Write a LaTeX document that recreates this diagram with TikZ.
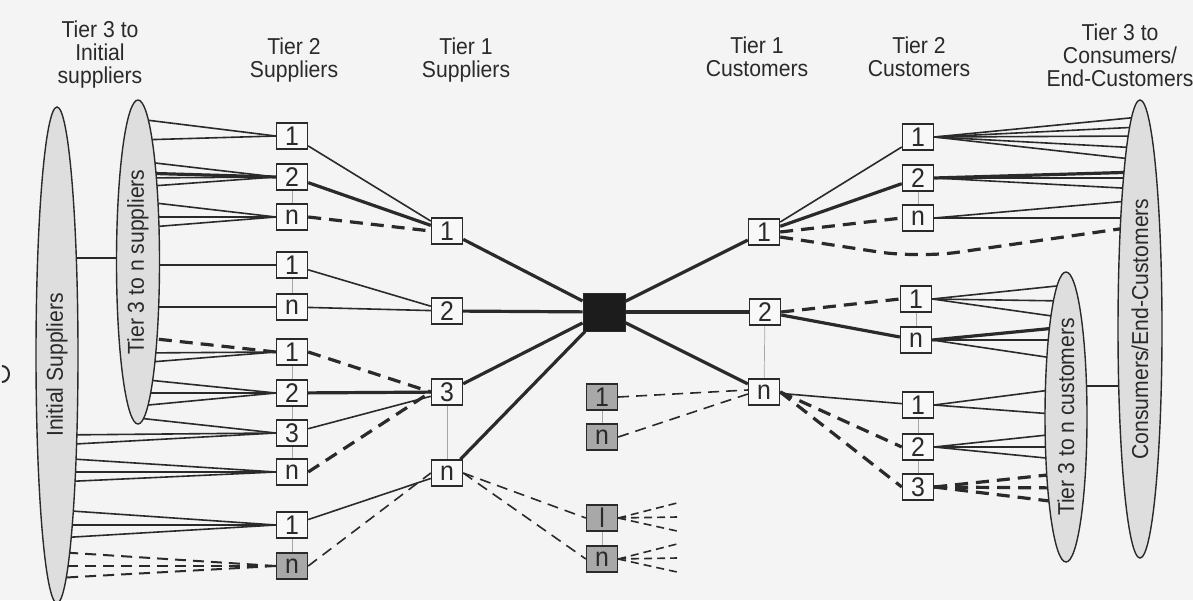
\documentclass[tikz,border=0pt]{standalone}
\usepackage{fontspec}
\setmainfont{Liberation Sans}[FakeStretch=0.92]
\usetikzlibrary{shapes.geometric,calc}
\definecolor{ink}{HTML}{2A2A2A}
\definecolor{paper}{HTML}{F4F4F4}
\definecolor{boxfill}{HTML}{F8F8F8}
\definecolor{ellfill}{HTML}{DEDEDE}
\definecolor{gboxfill}{HTML}{A8A8A8}
\definecolor{hubfill}{HTML}{1C1C1C}
\pgfdeclarelayer{back}
\pgfdeclarelayer{bg}
\pgfsetlayers{back,bg,main}
\begin{document}
\begin{tikzpicture}[x=1pt,y=-1pt,
  hdr/.style={font=\fontsize{23}{23}\selectfont, text=ink, align=center, inner sep=0pt, anchor=north},
  ell/.style={ellipse, draw=ink, fill=ellfill, line width=1.4pt, inner sep=0pt, rotate=90, text=ink, font=\fontsize{23}{23}\selectfont},
  elltext/.style={rotate=90, inner sep=0pt, text=ink, font=\fontsize{23}{23}\selectfont},
  bx/.style={draw=ink, fill=boxfill, line width=1.4pt, minimum width=31pt, minimum height=26pt, inner sep=0pt, text=ink, font=\fontsize{27}{27}\selectfont},
  gbx/.style={bx, fill=gboxfill},
  hub/.style={draw=ink, fill=hubfill, line width=1pt, minimum width=42pt, minimum height=38pt, inner sep=0pt},
  ln/.style={draw=ink, line width=1.6pt},
  bd/.style={draw=ink, line width=3.2pt},
  bdash/.style={draw=ink, line width=3.2pt, dash pattern=on 13pt off 8pt},
  tdash/.style={draw=ink, line width=1.6pt, dash pattern=on 11pt off 7pt},
  grp/.style={draw=gray!70, line width=0.7pt}]
\begin{pgfonlayer}{back}
\fill[paper] (0,0) rectangle (1193,600);
\end{pgfonlayer}
\useasboundingbox (0,0) rectangle (1193,600);

% headers
\node[hdr] (h1) at (100,21) {Tier 3 to\\Initial\\suppliers};
\node[hdr] (h2) at (294,38) {Tier 2\\Suppliers};
\node[hdr] (h3) at (466,38) {Tier 1\\Suppliers};
\node[hdr] (h4) at (757,37) {Tier 1\\Customers};
\node[hdr] (h5) at (919,37) {Tier 2\\Customers};
\node[hdr] (h6) at (1120,24) {Tier 3 to\\Consumers/\\End-Customers};

% ellipses
\node[ell, minimum width=496pt, minimum height=42pt] (IS) at (57,355) {};
\node[elltext] (ISt) at (57,365) {Initial Suppliers};
\node[ell, minimum width=324pt, minimum height=43pt] (TS) at (138,262) {Tier 3 to n suppliers};
\node[ell, minimum width=290pt, minimum height=42pt] (TC) at (1066,417) {Tier 3 to n customers};
\node[ell, minimum width=458pt, minimum height=44pt] (CE) at (1140,329) {Consumers/End-Customers};

% tier 2 suppliers
\node[bx] (S2a) at (292,136) {1};
\node[bx] (S2b) at (292,177) {2};
\node[bx] (S2c) at (292,217) {n};
\node[bx] (S2d) at (292,265) {1};
\node[bx] (S2e) at (292,307) {n};
\node[bx] (S2f) at (292,352) {1};
\node[bx] (S2g) at (292,393) {2};
\node[bx] (S2h) at (292,433) {3};
\node[bx] (S2i) at (292,472) {n};
\node[bx] (S2j) at (292,525) {1};
\node[gbx] (S2k) at (292,566) {n};

% tier 1 suppliers
\node[bx] (T1S1) at (447,231) {1};
\node[bx] (T1S2) at (447,311) {2};
\node[bx] (T1S3) at (447,392) {3};
\node[bx] (T1Sn) at (447,473) {n};

% focal company
\node[hub] (hub) at (604,312) {};

% gray boxes
\node[gbx] (G1) at (602,397) {1};
\node[gbx] (Gn) at (602,437) {n};
\node[gbx] (GL) at (602,518) {l};
\node[gbx] (Gm) at (602,559) {n};

% tier 1 customers
\node[bx] (C1a) at (764,232) {1};
\node[bx] (C1b) at (765,312) {2};
\node[bx] (C1n) at (764,392) {n};

% tier 2 customers
\node[bx] (C2a) at (918,137) {1};
\node[bx] (C2b) at (918,178) {2};
\node[bx] (C2c) at (918,218) {n};
\node[bx] (C2d) at (916,299) {1};
\node[bx] (C2e) at (916,340) {n};
\node[bx] (C2f) at (918,405) {1};
\node[bx] (C2g) at (918,447) {2};
\node[bx] (C2h) at (918,487) {3};

\coordinate (dip) at (918,258);
\coordinate (fa1) at (677,503);
\coordinate (fa2) at (677,517);
\coordinate (fa3) at (677,531);
\coordinate (fb1) at (677,544);
\coordinate (fb2) at (677,558);
\coordinate (fb3) at (677,572);

% small mark at left edge
\draw[ink, line width=2pt] (2,366) to[out=0,in=90] (9,374) to[out=-90,in=0] (2,382);

\begin{pgfonlayer}{bg}
% group lines
\draw[grp] (S2b) -- (S2c);
\draw[grp] (S2d) -- (S2e);
\draw[grp] (S2f) -- (S2i);
\draw[grp] (S2j) -- (S2k);
\draw[grp] (T1S3) -- (T1Sn);
\draw[grp] (G1) -- (Gn);
\draw[grp] (GL) -- (Gm);
\draw[grp] (C1b) -- (C1n);
\draw[grp] (C2b) -- (C2c);
\draw[grp] (C2d) -- (C2e);
\draw[grp] (C2f) -- (C2h);

% ellipse links
\draw[ln] (IS.center |- 0,258) -- (TS.center |- 0,258);
\draw[ln] (TC.center |- 0,386) -- (CE.center |- 0,386);

% left fans
\foreach \y in {119,140} \draw[ln] (TS.center |- 0,\y) -- (S2a.west);
\foreach \y in {161,178,187} \draw[ln] (TS.center |- 0,\y) -- (S2b.west);
\draw[bd] (TS.center |- 0,173) -- (S2b.west);
\foreach \y in {201,217,228} \draw[ln] (TS.center |- 0,\y) -- (S2c.west);
\draw[ln] (TS.center |- 0,265) -- (S2d.west);
\draw[ln] (TS.center |- 0,307) -- (S2e.west);
\draw[bdash] (TS.center |- 0,337) -- (S2f.west);
\foreach \y in {353,363} \draw[ln] (TS.center |- 0,\y) -- (S2f.west);
\foreach \y in {379,393,406} \draw[ln] (TS.center |- 0,\y) -- (S2g.west);
\draw[ln] (TS.center |- 0,418) -- (S2h.west);
\foreach \y in {435,445} \draw[ln] (IS.center |- 0,\y) -- (S2h.west);
\foreach \y in {458,472,482} \draw[ln] (IS.center |- 0,\y) -- (S2i.west);
\foreach \y in {510,525,538} \draw[ln] (IS.center |- 0,\y) -- (S2j.west);
\foreach \y in {552,566,578} \draw[tdash, line width=2pt] (S2k.west) -- (IS.center |- 0,\y);

% tier 2 -> tier 1 suppliers
\draw[ln] (S2a) -- (T1S1);
\draw[bd] (S2b) -- (T1S1);
\draw[bdash] (S2c.east) -- (T1S1.west);
\draw[ln] (S2d) -- (T1S2);
\draw[ln] (S2e) -- (T1S2);
\draw[bdash] (S2f.east) -- (T1S3.west);
\draw[bd] (S2g) -- (T1S3);
\draw[ln] (S2h) -- (T1S3);
\draw[bdash] (S2i.east) -- (T1S3.west);
\draw[ln] (S2j) -- (T1Sn);
\draw[tdash] (S2k.east) -- (T1Sn.west);

% tier 1 suppliers -> hub -> tier 1 customers
\foreach \n in {T1S1,T1S2,T1S3,T1Sn} \draw[bd] (\n) -- (hub);
\foreach \n in {C1a,C1b,C1n} \draw[bd] (hub) -- (\n);

% gray boxes
\draw[tdash] (G1.east) -- ([yshift=2pt]C1n.west);
\draw[tdash] (Gn.east) -- ([yshift=-2pt]C1n.west);
\draw[tdash] (T1Sn.east) -- (GL.west);
\draw[tdash] (T1Sn.east) -- (Gm.west);
\foreach \c in {fa1,fa2,fa3} \draw[tdash, dash pattern=on 8pt off 5pt] (GL.east) -- (\c);
\foreach \c in {fb1,fb2,fb3} \draw[tdash, dash pattern=on 8pt off 5pt] (Gm.east) -- (\c);

% tier 1 -> tier 2 customers
\draw[ln] (C1a) -- (C2a);
\draw[bd] (C1a) -- (C2b);
\draw[bdash] (C1a.east) -- (C2c.west);
\draw[bdash, rounded corners=40pt] ([yshift=-5pt]C1a.east) -- (dip) -- (CE.center |- 0,226);
\draw[bdash] (C1b.east) -- (C2d.west);
\draw[bd] (C1b) -- (C2e);
\draw[ln] (C1n) -- (C2f);
\draw[bdash] (C1n.east) -- (C2g.west);
\draw[bdash] (C1n.east) -- (C2h.west);

% right fans
\foreach \y in {117,127,136,148,160} \draw[ln] (C2a.east) -- (CE.center |- 0,\y);
\draw[bd] (C2b.east) -- (CE.center |- 0,172);
\foreach \y in {178,189} \draw[ln] (C2b.east) -- (CE.center |- 0,\y);
\foreach \y in {200,218} \draw[ln] (C2c.east) -- (CE.center |- 0,\y);
\foreach \y in {285,301,318} \draw[ln] (C2d.east) -- (TC.center |- 0,\y);
\draw[bd] (C2e.east) -- (TC.center |- 0,327);
\foreach \y in {340,360} \draw[ln] (C2e.east) -- (TC.center |- 0,\y);
\foreach \y in {388,415} \draw[ln] (C2f.east) -- (TC.center |- 0,\y);
\foreach \y in {433,447,460} \draw[ln] (C2g.east) -- (TC.center |- 0,\y);
\foreach \y in {473,488,503} \draw[bdash] (C2h.east) -- (TC.center |- 0,\y);
\end{pgfonlayer}
\end{tikzpicture}
\end{document}
